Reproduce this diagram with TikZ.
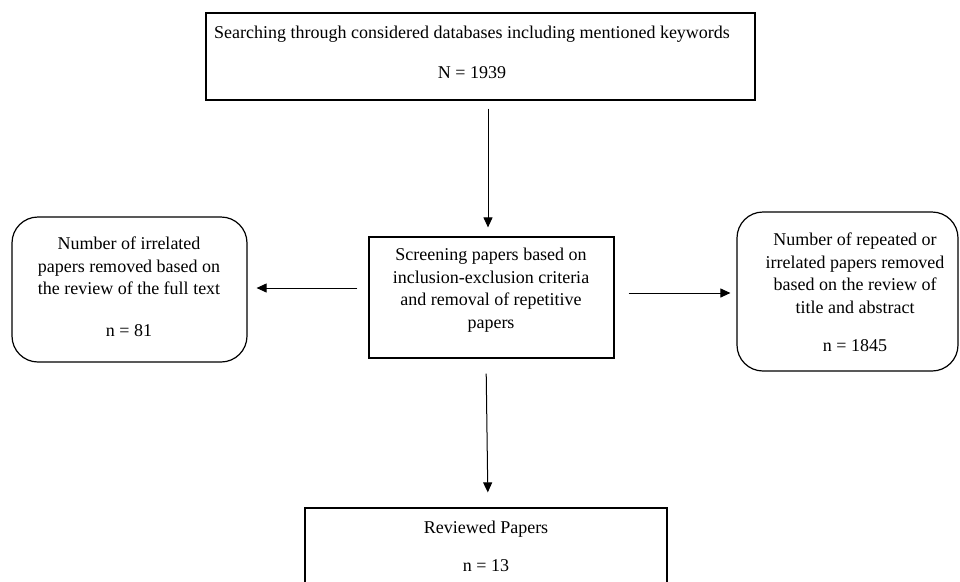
\documentclass[tikz,border=0pt]{standalone}
\usepackage{fontspec}
\setmainfont{Liberation Serif}
\usetikzlibrary{arrows.meta}
\begin{document}
\begin{tikzpicture}[x=1pt,y=-1pt,
  box/.style={draw=black,line width=1.2pt,minimum width=#1,inner sep=0pt},
  rbox/.style={box=#1,rounded corners=26pt},
  txt/.style={align=center,inner sep=0pt,font=\fontsize{18}{22.5}\selectfont},
  arr/.style={line width=1pt,-{Triangle[length=10pt,width=9pt]}}]
\clip (0,0) rectangle (960,581);
% boxes
\node[box=549pt,minimum height=87pt] (top) at (480.5,56.5) {};
\node[box=245pt,minimum height=121pt] (mid) at (491.5,297.5) {};
\node[rbox=235pt,minimum height=145pt] (left) at (129.5,289.5) {};
\node[rbox=221pt,minimum height=159pt] (right) at (847.5,291.5) {};
\node[box=362pt,minimum height=92pt] (bot) at (486,554) {};
% texts
\node[txt] (ttop) at (472,52.5) {Searching through considered databases including mentioned keywords\\[17pt]N = 1939};
\node[txt] (tmid) at (491,290) {Screening papers based on\\inclusion-exclusion criteria\\and removal of repetitive\\papers};
\node[txt] (tleft) at (129,286.5) {Number of irrelated\\papers removed based on\\the review of the full text\\[19pt]n = 81};
\node[txt] (tright) at (855,292.5) {Number of repeated or\\irrelated papers removed\\based on the review of\\title and abstract\\[16pt]n = 1845};
\node[txt] (tbot) at (486,546.5) {Reviewed Papers\\[15pt]n = 13};
% connectors
\draw[arr,shorten <=8pt,shorten >=9pt] ([xshift=7.5pt]top.south) -- ([xshift=-3.5pt]mid.north);
\draw[arr,shorten <=11pt,shorten >=9pt] ([yshift=9.5pt]mid.west) -- ([yshift=9.5pt]mid.west -| left.east);
\draw[arr,shorten <=14pt,shorten >=6pt] ([yshift=4.5pt]mid.east) -- ([yshift=4.5pt]mid.east -| right.west);
\draw[arr,shorten <=15pt,shorten >=15pt] ([xshift=-5.5pt]mid.south) -- ([xshift=2pt]bot.north);
\end{tikzpicture}
\end{document}
